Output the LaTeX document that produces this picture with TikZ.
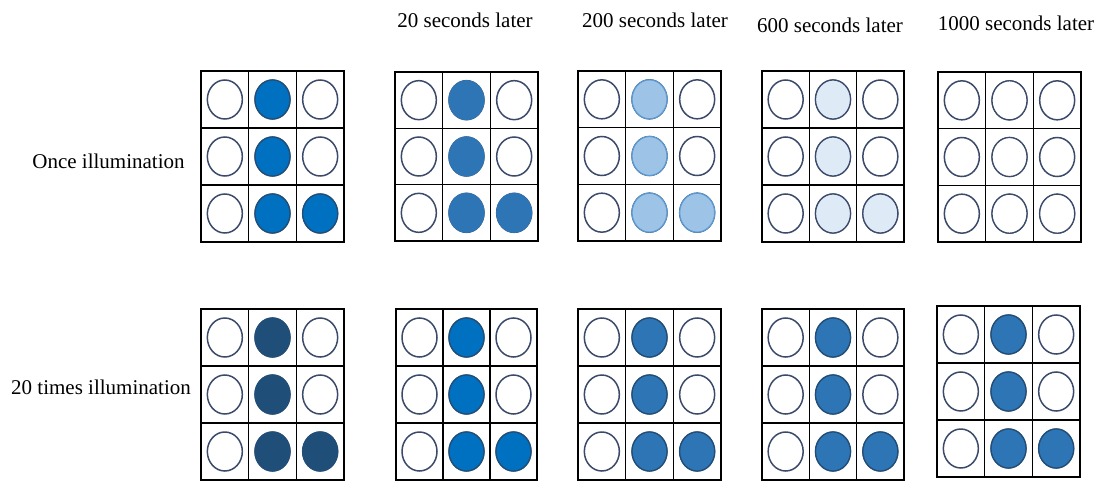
\documentclass[tikz,border=0pt]{standalone}
\usepackage{fontspec}
\setmainfont{Liberation Serif}
\definecolor{bA}{HTML}{0070C0}
\definecolor{bB}{HTML}{2E75B6}
\definecolor{bC}{HTML}{9DC3E6}
\definecolor{bD}{HTML}{DEEBF7}
\definecolor{bE}{HTML}{1F4E79}
\definecolor{ringc}{HTML}{3B4A6B}
\definecolor{edgeA}{HTML}{1F4E79}
\definecolor{edgeC}{HTML}{5B9BD5}
\tikzset{
  gridline/.style={draw=black, line width=1.3pt},
  ring/.style={draw=ringc, line width=1.5pt, fill=white},
  lbl/.style={font=\fontsize{21}{25}\selectfont, inner sep=0pt, anchor=base}
}
% #1 x, #2 y, #3 w, #4 h, #5 fill colour, #6 edge colour
\newcommand{\cellgrid}[6]{%
  \begin{scope}[shift={(#1,#2)}]
    \pgfmathsetmacro{\cw}{#3/3}
    \pgfmathsetmacro{\ch}{#4/3}
    \foreach \i in {0,1,2}{
      \foreach \j in {0,1,2}{
        \draw[ring] ({(\i+0.5)*\cw},{(\j+0.5)*\ch}) ellipse [x radius=17.5pt, y radius=19.5pt];
      }
    }
    \foreach \i/\j in {1/0,1/1,1/2,2/2}{
      \draw[fill=#5, draw=#6, line width=1.2pt] ({(\i+0.5)*\cw},{(\j+0.5)*\ch}) ellipse [x radius=17.5pt, y radius=19.5pt];
    }
    \draw[gridline] (0,0) rectangle (#3,#4);
    \draw[gridline] (\cw,0) -- (\cw,#4);
    \draw[gridline] ({2*\cw},0) -- ({2*\cw},#4);
    \draw[gridline] (0,\ch) -- (#3,\ch);
    \draw[gridline] (0,{2*\ch}) -- (#3,{2*\ch});
  \end{scope}}
\begin{document}
\begin{tikzpicture}[x=1pt,y=-1pt]
\useasboundingbox (0,0) rectangle (1105,495);
\fill[white] (0,0) rectangle (1105,495);
% headers
\node[lbl] (h20) at (465,28) {20 seconds later};
\node[lbl] (h200) at (655,28) {200 seconds later};
\node[lbl] (h600) at (830,33) {600 seconds later};
\node[lbl] (h1000) at (1016,31) {1000 seconds later};
\node[lbl] (once) at (108.5,168) {Once illumination};
\node[lbl] (twenty) at (101,394) {20 times illumination};
% top row
\cellgrid{201}{71}{143}{171}{bA}{edgeA}
\cellgrid{395}{72}{143}{169}{bB}{bB}
\cellgrid{578}{71}{143}{170}{bC}{edgeC}
\cellgrid{762}{71}{142}{171}{bD}{ringc}
\cellgrid{938}{72}{143}{170}{white}{ringc}
% bottom row
\cellgrid{201}{309}{143}{171}{bE}{bE}
\cellgrid{396}{309}{141}{171}{bA}{edgeA}
\cellgrid{578}{309}{143}{171}{bB}{edgeA}
\cellgrid{762}{309}{142}{171}{bB}{edgeA}
\cellgrid{937}{306}{143}{171}{bB}{edgeA}
\end{tikzpicture}
\end{document}
